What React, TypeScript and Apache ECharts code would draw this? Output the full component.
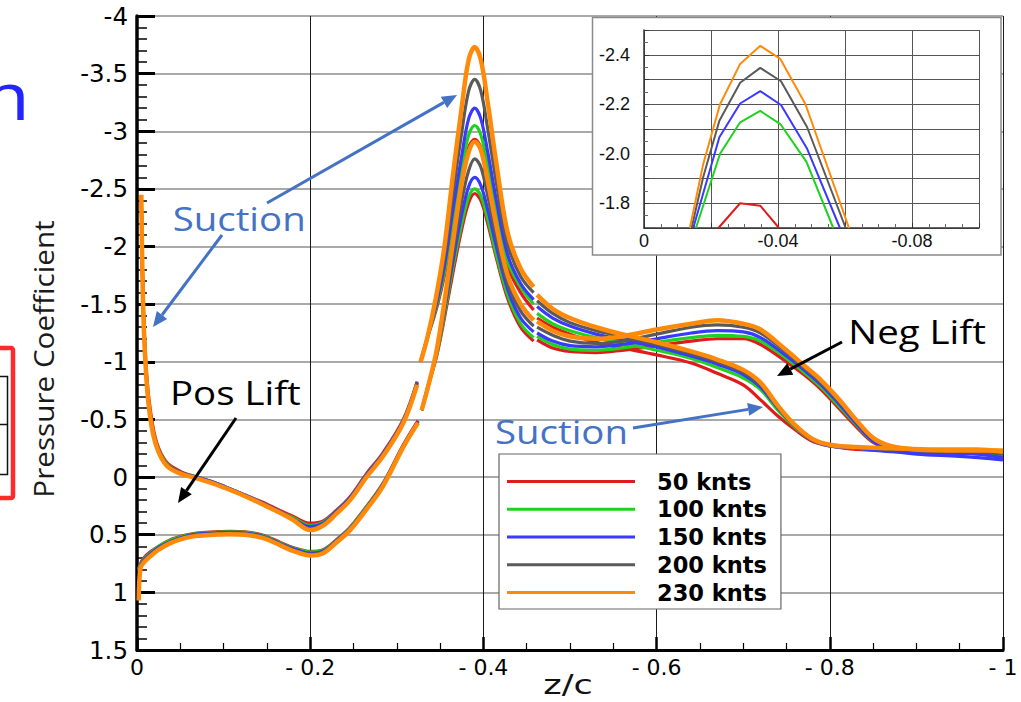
import React, { useEffect, useRef } from 'react';
import * as echarts from 'echarts';

// Free-stream speeds and their line colours
const SPEEDS = ['50 knts', '100 knts', '150 knts', '200 knts', '230 knts'];
const COLORS = ['#e01b1b', '#1fd21f', '#3a3aff', '#5a5a5a', '#ff8a0a'];
const LINE_WIDTHS = [3.2, 3.2, 3.2, 3.2, 4.5];

// Suction side: leading edge up to the first block boundary
const SUCTION_LEAD_Z = [-0.005, -0.0073, -0.011, -0.0158, -0.0227, -0.034, -0.05, -0.069, -0.09, -0.107, -0.126, -0.146, -0.165, -0.18, -0.2, -0.215, -0.23, -0.246, -0.265, -0.284, -0.3075, -0.3235];
const SUCTION_LEAD_CP = [
  [-2.4, -1.5, -0.9, -0.56, -0.3, -0.13, -0.05, 0.0, 0.05, 0.1, 0.16, 0.22, 0.29, 0.34, 0.4, 0.38, 0.29, 0.17, -0.03, -0.21, -0.5, -0.83],
  [-2.42, -1.47, -0.87, -0.52, -0.28, -0.12, -0.04, 0.0, 0.05, 0.1, 0.16, 0.23, 0.3, 0.35, 0.42, 0.39, 0.3, 0.18, -0.02, -0.2, -0.49, -0.82],
  [-2.43, -1.46, -0.86, -0.51, -0.27, -0.11, -0.04, 0.0, 0.05, 0.1, 0.16, 0.23, 0.3, 0.36, 0.43, 0.4, 0.3, 0.18, -0.02, -0.2, -0.49, -0.82],
  [-2.44, -1.44, -0.85, -0.5, -0.27, -0.11, -0.04, 0.01, 0.06, 0.11, 0.17, 0.24, 0.31, 0.36, 0.45, 0.41, 0.31, 0.19, -0.01, -0.19, -0.48, -0.81],
  [-2.45, -1.42, -0.84, -0.49, -0.26, -0.1, -0.03, 0.01, 0.06, 0.11, 0.17, 0.24, 0.31, 0.37, 0.46, 0.42, 0.32, 0.2, 0.0, -0.18, -0.47, -0.8],
];

// Suction side: main suction peak
const SUCTION_PEAK_Z = [-0.3275, -0.335, -0.345, -0.355, -0.365, -0.375, -0.383, -0.39, -0.397, -0.405, -0.415, -0.428, -0.443, -0.458];
const SUCTION_PEAK_CP = [
  [-1.0, -1.2, -1.44, -1.75, -2.18, -2.57, -2.86, -2.93, -2.86, -2.6, -2.24, -1.83, -1.6, -1.45],
  [-1.0, -1.2, -1.46, -1.78, -2.25, -2.67, -2.97, -3.05, -2.97, -2.7, -2.31, -1.87, -1.65, -1.5],
  [-1.0, -1.2, -1.48, -1.83, -2.33, -2.79, -3.11, -3.2, -3.11, -2.82, -2.4, -1.93, -1.68, -1.54],
  [-1.0, -1.2, -1.51, -1.91, -2.47, -2.99, -3.35, -3.45, -3.35, -3.02, -2.55, -2.02, -1.74, -1.6],
  [-1.0, -1.2, -1.55, -2.0, -2.63, -3.21, -3.62, -3.73, -3.62, -3.25, -2.72, -2.12, -1.81, -1.65],
];

// Suction side: aft of the peak to the trailing edge
const SUCTION_AFT_Z = [-0.462, -0.48, -0.5, -0.53, -0.56, -0.6, -0.64, -0.67, -0.7, -0.72, -0.74, -0.76, -0.78, -0.8, -0.83, -0.87, -0.92, -0.97, -1.0];
const SUCTION_AFT_CP = [
  [-1.38, -1.3, -1.24, -1.17, -1.12, -1.06, -0.99, -0.9, -0.8, -0.67, -0.53, -0.41, -0.31, -0.27, -0.24, -0.23, -0.22, -0.21, -0.2],
  [-1.42, -1.33, -1.27, -1.21, -1.16, -1.1, -1.03, -0.95, -0.86, -0.76, -0.58, -0.43, -0.32, -0.27, -0.25, -0.23, -0.22, -0.21, -0.19],
  [-1.48, -1.38, -1.31, -1.24, -1.19, -1.13, -1.05, -0.98, -0.89, -0.78, -0.6, -0.44, -0.32, -0.27, -0.25, -0.22, -0.21, -0.2, -0.17],
  [-1.53, -1.42, -1.34, -1.27, -1.22, -1.15, -1.07, -1.0, -0.91, -0.8, -0.61, -0.44, -0.33, -0.28, -0.26, -0.24, -0.23, -0.22, -0.2],
  [-1.58, -1.46, -1.38, -1.3, -1.24, -1.17, -1.09, -1.02, -0.93, -0.82, -0.62, -0.45, -0.33, -0.28, -0.26, -0.25, -0.24, -0.24, -0.22],
];

// Pressure side: leading edge up to the first block boundary
const PRESSURE_LEAD_Z = [-0.002, -0.004, -0.008, -0.015, -0.025, -0.038, -0.055, -0.069, -0.09, -0.107, -0.125, -0.146, -0.165, -0.18, -0.2, -0.215, -0.23, -0.246, -0.265, -0.284, -0.3075, -0.3245];
const PRESSURE_LEAD_CP = [
  [0.8, 0.75, 0.7, 0.65, 0.6, 0.545, 0.505, 0.485, 0.475, 0.47, 0.475, 0.505, 0.565, 0.61, 0.645, 0.63, 0.545, 0.435, 0.255, 0.055, -0.28, -0.49],
  [0.8, 0.76, 0.71, 0.66, 0.6, 0.55, 0.51, 0.49, 0.48, 0.475, 0.48, 0.51, 0.57, 0.615, 0.65, 0.635, 0.55, 0.44, 0.26, 0.06, -0.27, -0.48],
  [0.81, 0.77, 0.72, 0.67, 0.61, 0.56, 0.515, 0.495, 0.485, 0.48, 0.485, 0.515, 0.575, 0.62, 0.66, 0.64, 0.555, 0.445, 0.265, 0.065, -0.27, -0.48],
  [0.82, 0.78, 0.73, 0.68, 0.62, 0.565, 0.52, 0.5, 0.49, 0.485, 0.49, 0.52, 0.58, 0.63, 0.67, 0.65, 0.56, 0.45, 0.27, 0.07, -0.27, -0.48],
  [1.07, 0.79, 0.74, 0.69, 0.63, 0.575, 0.53, 0.51, 0.5, 0.495, 0.5, 0.53, 0.59, 0.64, 0.68, 0.66, 0.57, 0.46, 0.28, 0.08, -0.26, -0.47],
];

// Pressure side: secondary peak
const PRESSURE_PEAK_Z = [-0.3287, -0.338, -0.346, -0.355, -0.365, -0.375, -0.383, -0.39, -0.397, -0.405, -0.415, -0.428, -0.443, -0.458];
const PRESSURE_PEAK_CP = [
  [-0.58, -0.84, -1.05, -1.38, -1.78, -2.15, -2.38, -2.46, -2.4, -2.2, -1.9, -1.55, -1.3, -1.18],
  [-0.58, -0.84, -1.06, -1.41, -1.83, -2.2, -2.43, -2.5, -2.44, -2.24, -1.93, -1.58, -1.33, -1.21],
  [-0.58, -0.84, -1.07, -1.44, -1.88, -2.28, -2.52, -2.6, -2.53, -2.32, -2.0, -1.63, -1.38, -1.26],
  [-0.58, -0.84, -1.08, -1.46, -1.95, -2.4, -2.66, -2.76, -2.69, -2.44, -2.08, -1.68, -1.44, -1.31],
  [-0.58, -0.84, -1.1, -1.52, -2.05, -2.55, -2.82, -2.91, -2.84, -2.57, -2.18, -1.75, -1.5, -1.36],
];

// Pressure side: aft of the peak to the trailing edge
const PRESSURE_AFT_Z = [-0.462, -0.48, -0.5, -0.53, -0.56, -0.6, -0.64, -0.67, -0.7, -0.72, -0.75, -0.77, -0.79, -0.81, -0.83, -0.85, -0.87, -0.9, -0.95, -1.0];
const PRESSURE_AFT_CP = [
  [-1.19, -1.12, -1.09, -1.08, -1.1, -1.14, -1.18, -1.2, -1.2, -1.15, -1.0, -0.89, -0.76, -0.6, -0.44, -0.3, -0.25, -0.23, -0.22, -0.21],
  [-1.22, -1.15, -1.11, -1.1, -1.12, -1.17, -1.21, -1.23, -1.22, -1.18, -1.03, -0.91, -0.78, -0.62, -0.46, -0.31, -0.25, -0.22, -0.21, -0.19],
  [-1.25, -1.18, -1.14, -1.13, -1.15, -1.2, -1.25, -1.27, -1.26, -1.21, -1.05, -0.93, -0.8, -0.64, -0.47, -0.31, -0.23, -0.2, -0.18, -0.15],
  [-1.3, -1.23, -1.18, -1.16, -1.18, -1.24, -1.3, -1.32, -1.3, -1.25, -1.08, -0.95, -0.82, -0.66, -0.49, -0.33, -0.26, -0.23, -0.22, -0.21],
  [-1.35, -1.27, -1.22, -1.2, -1.22, -1.28, -1.33, -1.36, -1.33, -1.28, -1.1, -0.97, -0.84, -0.68, -0.5, -0.34, -0.27, -0.24, -0.23, -0.23],
];

// Block boundaries where the surface data is not continuous
const SUCTION_BREAKS = [-0.3255, -0.46];
const PRESSURE_BREAKS = [-0.3266, -0.46];

// Inset: close-up of the leading-edge peak
const INSET_Z = [
  [-0.0222, -0.0287, -0.0347, -0.0403],
  [-0.0155, -0.0227, -0.0287, -0.0347, -0.0407, -0.0485, -0.0565],
  [-0.0147, -0.0225, -0.0287, -0.0347, -0.0409, -0.0487, -0.0585],
  [-0.0142, -0.0177, -0.0225, -0.0287, -0.0347, -0.0409, -0.0487, -0.0602],
  [-0.0137, -0.0177, -0.0227, -0.0287, -0.0347, -0.0407, -0.0482, -0.0612],
];
const INSET_CP = [
  [-1.7, -1.8, -1.79, -1.7],
  [-1.7, -2.0, -2.127, -2.173, -2.12, -1.967, -1.7],
  [-1.7, -2.067, -2.203, -2.253, -2.197, -2.02, -1.7],
  [-1.7, -1.907, -2.133, -2.287, -2.347, -2.293, -2.107, -1.7],
  [-1.7, -1.96, -2.2, -2.363, -2.436, -2.383, -2.2, -1.7],
];

function surfaceData(zs: number[][], cps: number[][][], breaks: number[], s: number) {
  const out: (number | null)[][] = [];
  zs.forEach((zArr, k) => {
    if (k > 0) out.push([breaks[k - 1], null]);
    zArr.forEach((z, i) => out.push([z, cps[k][s][i]]));
  });
  return out;
}

function arrow(x1: number, y1: number, x2: number, y2: number, color: string, w: number) {
  const ang = Math.atan2(y2 - y1, x2 - x1);
  const L = 15;
  const H = 6.5;
  const bx = x2 - L * Math.cos(ang);
  const by = y2 - L * Math.sin(ang);
  const px = -Math.sin(ang) * H;
  const py = Math.cos(ang) * H;
  return [
    { type: 'line', z: 20, shape: { x1, y1, x2: bx, y2: by }, style: { stroke: color, lineWidth: w } },
    { type: 'polygon', z: 20, shape: { points: [[x2, y2], [bx + px, by + py], [bx - px, by - py]] }, style: { fill: color } },
  ];
}

function label(text: string, x: number, y: number, color: string) {
  return {
    type: 'text', z: 20, x, y, scaleX: 1.2,
    style: {
      text, fill: color, x: 0, y: 0,
      font: '32px "Open Sans"', fontSize: 32, fontFamily: 'Open Sans',
      textAlign: 'left', align: 'left', textVerticalAlign: 'middle', verticalAlign: 'middle',
    },
  };
}

export default function App() {
  const ref = useRef<HTMLDivElement>(null);

  useEffect(() => {
    if (!ref.current) return;
    const chart = echarts.init(ref.current, null, { renderer: 'svg' });

    const series: any[] = [];
    SPEEDS.forEach((name, s) => {
      const common = {
        type: 'line', name, symbol: 'none', smooth: 0.35, connectNulls: false,
        xAxisIndex: 0, yAxisIndex: 0, z: 2,
        itemStyle: { color: COLORS[s] },
        lineStyle: { color: COLORS[s], width: LINE_WIDTHS[s] },
      };
      series.push({
        ...common,
        data: surfaceData([SUCTION_LEAD_Z, SUCTION_PEAK_Z, SUCTION_AFT_Z], [SUCTION_LEAD_CP, SUCTION_PEAK_CP, SUCTION_AFT_CP], SUCTION_BREAKS, s),
      });
      series.push({
        ...common,
        data: surfaceData([PRESSURE_LEAD_Z, PRESSURE_PEAK_Z, PRESSURE_AFT_Z], [PRESSURE_LEAD_CP, PRESSURE_PEAK_CP, PRESSURE_AFT_CP], PRESSURE_BREAKS, s),
      });
    });
    SPEEDS.forEach((name, s) => {
      series.push({
        type: 'line', name, symbol: 'none', smooth: false,
        xAxisIndex: 1, yAxisIndex: 1, z: 6,
        itemStyle: { color: COLORS[s] },
        lineStyle: { color: COLORS[s], width: 2 },
        data: INSET_Z[s].map((z, i) => [z, INSET_CP[s][i]]),
      });
    });

    const graphicEls: any[] = [
      // inset frame
      { type: 'rect', z: 3, shape: { x: 592.5, y: 17.5, width: 408.5, height: 237.5 }, style: { fill: '#ffffff', stroke: '#8a8a8a', lineWidth: 1.5 } },
      // axis titles
      {
        type: 'text', z: 20, x: 43, y: 359, rotation: Math.PI / 2, scaleX: 1.06,
        style: {
          text: 'Pressure Coefficient', fill: '#1a1a1a', x: 0, y: 0,
          font: '28px "Open Sans"', fontSize: 28, fontFamily: 'Open Sans',
          textAlign: 'center', align: 'center', textVerticalAlign: 'middle', verticalAlign: 'middle',
        },
      },
      {
        type: 'text', z: 20, x: 568, y: 685, scaleX: 1.3,
        style: {
          text: 'z/c', fill: '#111', x: 0, y: 0,
          font: '27px "DejaVu Sans"', fontSize: 27, fontFamily: 'DejaVu Sans',
          textAlign: 'center', align: 'center', textVerticalAlign: 'middle', verticalAlign: 'middle',
        },
      },
      // slide fragments at the left edge
      {
        type: 'text', z: 20, x: 30, y: 94, scaleX: 1.2,
        style: {
          text: 'm', fill: '#2424ff', x: 0, y: 0,
          font: '66px "Open Sans"', fontSize: 66, fontFamily: 'Open Sans',
          textAlign: 'right', align: 'right', textVerticalAlign: 'middle', verticalAlign: 'middle',
        },
      },
      { type: 'rect', z: 20, shape: { x: -10, y: 348, width: 23, height: 150, r: 2 }, style: { fill: 'none', stroke: '#ff2a2a', lineWidth: 4.5 } },
      { type: 'rect', z: 20, shape: { x: -10, y: 376.5, width: 17.5, height: 98 }, style: { fill: 'none', stroke: '#111', lineWidth: 1.5 } },
      { type: 'line', z: 20, shape: { x1: 0, y1: 424.5, x2: 7.5, y2: 424.5 }, style: { stroke: '#111', lineWidth: 1.5 } },
      // annotations
      label('Suction', 172.7, 218, '#4472c4'),
      ...arrow(267, 203, 457, 95, '#4472c4', 3),
      ...arrow(222, 235, 153, 327, '#4472c4', 3),
      label('Pos Lift', 170, 392, '#000'),
      ...arrow(236, 418, 178, 503, '#000', 3),
      label('Neg Lift', 848.3, 331, '#000'),
      ...arrow(842, 342, 777, 376, '#000', 3),
      label('Suction', 495, 431, '#4472c4'),
      ...arrow(633, 428, 763, 407, '#4472c4', 3),
    ];

    chart.setOption({
      animation: false,
      backgroundColor: '#ffffff',
      grid: [
        { left: 137, top: 16, width: 866, height: 634 },
        { left: 644, top: 30, width: 335, height: 198 },
      ],
      xAxis: [
        {
          type: 'value', gridIndex: 0, min: -1, max: 0, interval: 0.2, inverse: true,
          axisLine: { show: true, onZero: false, lineStyle: { color: '#000', width: 3 } },
          axisTick: { show: true, inside: true, length: 13, lineStyle: { color: '#000', width: 2.5 } },
          minorTick: { show: true, splitNumber: 4, length: 7, lineStyle: { color: '#000', width: 1.2 } },
          splitLine: { show: true, lineStyle: { color: '#1a1a1a', width: 1 } },
          axisLabel: {
            color: '#000', fontFamily: 'DejaVu Sans', fontSize: 22, margin: 6,
            formatter: (v: number) => (v === 0 ? '0' : '- ' + String(Math.abs(+v.toFixed(1)))),
          },
        },
        {
          type: 'value', gridIndex: 1, min: -0.1, max: 0, interval: 0.02, inverse: true, z: 5,
          axisLine: { show: true, onZero: false, lineStyle: { color: '#333', width: 1.5 } },
          axisTick: { show: true, inside: true, length: 5, lineStyle: { color: '#333' } },
          minorTick: { show: true, splitNumber: 4, length: 4, lineStyle: { color: '#666' } },
          splitLine: { show: true, lineStyle: { color: '#555', width: 1 } },
          axisLabel: {
            color: '#111', fontFamily: 'Liberation Sans', fontSize: 18, margin: 4,
            formatter: (v: number) => {
              const k = Math.round(v * 100);
              if (k % 4 !== 0) return '';
              return k === 0 ? '0' : v.toFixed(2);
            },
          },
        },
      ],
      yAxis: [
        {
          type: 'value', gridIndex: 0, min: -4, max: 1.5, interval: 0.5, inverse: true,
          axisLine: { show: true, onZero: false, lineStyle: { color: '#000', width: 3.5 } },
          axisTick: { show: true, inside: true, length: 18, lineStyle: { color: '#000', width: 3 } },
          minorTick: { show: true, splitNumber: 5, length: 10, lineStyle: { color: '#000', width: 1.5 } },
          splitLine: { show: true, lineStyle: { color: '#8c8c8c', width: 1.5 } },
          axisLabel: { color: '#000', fontFamily: 'DejaVu Sans', fontSize: 24.5, margin: 9 },
        },
        {
          type: 'value', gridIndex: 1, min: -2.5, max: -1.7, interval: 0.1, inverse: true, z: 5,
          axisLine: { show: true, onZero: false, lineStyle: { color: '#333', width: 1.5 } },
          axisTick: { show: true, inside: true, length: 5, lineStyle: { color: '#333' } },
          minorTick: { show: true, splitNumber: 2, length: 4, lineStyle: { color: '#666' } },
          splitLine: { show: true, lineStyle: { color: '#555', width: 1 } },
          axisLabel: {
            color: '#111', fontFamily: 'Liberation Sans', fontSize: 18, margin: 14,
            formatter: (v: number) => {
              const k = Math.round(v * 10);
              return k % 2 === 0 ? v.toFixed(1) : '';
            },
          },
        },
      ],
      legend: {
        data: SPEEDS, orient: 'vertical', left: 499, top: 454, z: 6,
        icon: 'rect', itemWidth: 128, itemHeight: 3, itemGap: 4.75,
        padding: [16, 14, 5, 8],
        backgroundColor: '#ffffff', borderColor: '#666', borderWidth: 1.2,
        selectedMode: false,
        textStyle: {
          color: '#000', fontFamily: 'DejaVu Sans', fontWeight: 'bold', fontSize: 22.5,
          lineHeight: 23, padding: [0, 0, 0, 17],
        },
      },
      graphic: { elements: graphicEls },
      series,
    });

    return () => chart.dispose();
  }, []);

  return <div ref={ref} style={{ position: 'fixed', left: 0, top: 0, width: 1021, height: 702 }} />;
}
